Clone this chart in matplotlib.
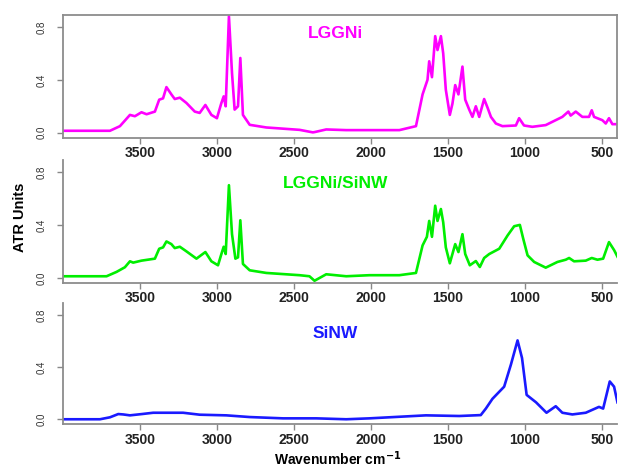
import numpy as np
import matplotlib
matplotlib.use('Agg')
import matplotlib.pyplot as plt

plt.rcParams['font.family'] = ['Liberation Sans', 'DejaVu Sans']
plt.rcParams['mathtext.default'] = 'bf'

# LGGNi spectrum (wavenumber, ATR units)
wn_lggni = [4000, 3695, 3630, 3565, 3533, 3490, 3457, 3403, 3375, 3350, 3328, 3296,
            3274, 3241, 3198, 3144, 3112, 3075, 3036, 3000, 2971, 2956, 2943, 2922,
            2902, 2885, 2863, 2848, 2831, 2787, 2679, 2463, 2377, 2366, 2290, 2160,
            2009, 1815, 1707, 1664, 1632, 1621, 1603, 1582, 1567, 1545, 1530, 1513,
            1487, 1470, 1452, 1431, 1405, 1387, 1361, 1340, 1318, 1296, 1264, 1242,
            1220, 1188, 1145, 1058, 1037, 1005, 951, 864, 756, 717, 702, 669,
            626, 583, 565, 550, 496, 474, 453, 431, 398]
ab_lggni = [0.015, 0.015, 0.05, 0.135, 0.125, 0.155, 0.14, 0.16, 0.25, 0.26, 0.345, 0.29,
            0.255, 0.265, 0.225, 0.16, 0.15, 0.21, 0.135, 0.11, 0.225, 0.275, 0.20, 0.88,
            0.45, 0.175, 0.20, 0.565, 0.135, 0.06, 0.04, 0.022, 0.003, 0.005, 0.025, 0.02,
            0.02, 0.02, 0.05, 0.29, 0.40, 0.54, 0.42, 0.73, 0.625, 0.73, 0.60, 0.325,
            0.135, 0.22, 0.36, 0.29, 0.50, 0.25, 0.175, 0.12, 0.20, 0.12, 0.255, 0.19,
            0.12, 0.07, 0.05, 0.055, 0.11, 0.055, 0.045, 0.058, 0.12, 0.16, 0.13, 0.16,
            0.12, 0.12, 0.17, 0.12, 0.095, 0.07, 0.11, 0.065, 0.065]

# LGGNi/SiNW spectrum
wn_mix = [4000, 3717, 3652, 3598, 3565, 3544, 3490, 3403, 3375, 3350, 3328, 3296,
          3274, 3241, 3198, 3133, 3075, 3036, 2993, 2971, 2956, 2943, 2922, 2902,
          2880, 2863, 2848, 2831, 2787, 2679, 2463, 2399, 2366, 2290, 2160, 2009,
          1815, 1707, 1664, 1636, 1621, 1603, 1582, 1567, 1545, 1530, 1513, 1487,
          1452, 1431, 1405, 1387, 1357, 1318, 1292, 1264, 1231, 1166, 1112, 1069,
          1032, 1010, 982, 939, 864, 788, 734, 712, 680, 604, 565, 528,
          491, 453, 420, 398]
ab_mix = [0.012, 0.012, 0.045, 0.08, 0.125, 0.115, 0.13, 0.145, 0.22, 0.23, 0.275, 0.255,
          0.225, 0.235, 0.20, 0.145, 0.195, 0.125, 0.095, 0.18, 0.235, 0.18, 0.70, 0.33,
          0.145, 0.155, 0.435, 0.105, 0.057, 0.037, 0.02, 0.012, -0.022, 0.027, 0.012, 0.02,
          0.02, 0.037, 0.245, 0.31, 0.43, 0.31, 0.545, 0.43, 0.52, 0.42, 0.23, 0.11,
          0.255, 0.195, 0.33, 0.18, 0.095, 0.127, 0.082, 0.15, 0.18, 0.22, 0.32, 0.39,
          0.40, 0.295, 0.17, 0.12, 0.077, 0.12, 0.137, 0.15, 0.125, 0.13, 0.15, 0.137,
          0.145, 0.27, 0.21, 0.16]

# SiNW spectrum
wn_sinw = [4000, 3760, 3695, 3641, 3609, 3565, 3487, 3414, 3220, 3112, 2939, 2787,
           2571, 2463, 2355, 2160, 2009, 1642, 1426, 1286, 1253, 1210, 1134, 1090,
           1047, 1018, 988, 927, 859, 799, 756, 691, 604, 518, 491, 448,
           420, 398]
ab_sinw = [0.0, 0.0, 0.015, 0.04, 0.037, 0.03, 0.04, 0.05, 0.05, 0.035, 0.03, 0.017,
           0.007, 0.007, 0.007, 0.0, 0.007, 0.03, 0.025, 0.032, 0.082, 0.157, 0.25, 0.42,
           0.605, 0.47, 0.187, 0.13, 0.05, 0.10, 0.05, 0.037, 0.05, 0.095, 0.082, 0.29,
           0.25, 0.13]

labels = ['LGGNi', 'LGGNi/SiNW', 'SiNW']
colors = ['#ff00ff', '#00ee00', '#1a1aff']
label_y = [0.75, 0.71, 0.66]
xticks = [3500, 3000, 2500, 2000, 1500, 1000, 500]
yticks = [0.0, 0.4, 0.8]

fig = plt.figure(figsize=(6.2, 4.68), dpi=100)
boxes = [(0.705, 0.968), (0.395, 0.658), (0.093, 0.352)]
series = [(wn_lggni, ab_lggni), (wn_mix, ab_mix), (wn_sinw, ab_sinw)]

for i, ((b, t), (wn, ab)) in enumerate(zip(boxes, series)):
    ax = fig.add_axes([0.1016, b, 0.9954 - 0.1016, t - b])
    ax.plot(wn, ab, color=colors[i], lw=1.9)
    ax.set_xlim(4000, 400)
    ax.set_ylim(-0.04, 0.89)
    ax.set_xticks(xticks)
    ax.set_xticklabels([str(v) for v in xticks], fontsize=10, fontweight='bold',
                       color='#222222')
    ax.set_yticks(yticks)
    ax.set_yticklabels(['0.0', '0.4', '0.8'], fontsize=7, rotation=90,
                       va='center', color='#333333')
    ax.tick_params(axis='x', length=4, width=1, color='#888888', pad=2)
    ax.tick_params(axis='y', length=4, width=1, color='#888888', pad=8)
    for s in ax.spines.values():
        s.set_color('#8c8c8c')
        s.set_linewidth(1.3)
    if i > 0:
        ax.spines['top'].set_visible(False)
        ax.spines['right'].set_visible(False)
    ax.text(2230, label_y[i], labels[i], color=colors[i], fontsize=12.5,
            fontweight='bold', ha='center', va='center')

fig.text(20 / 620, 1 - 217 / 468, 'ATR Units', rotation=90, fontsize=10.5,
         fontweight='bold', ha='center', va='center')
fig.text(338 / 620, 1 - 465 / 468, r'Wavenumber cm$^{-1}$', fontsize=10,
         fontweight='bold', ha='center', va='baseline')

fig.savefig('out.png', dpi=100)
